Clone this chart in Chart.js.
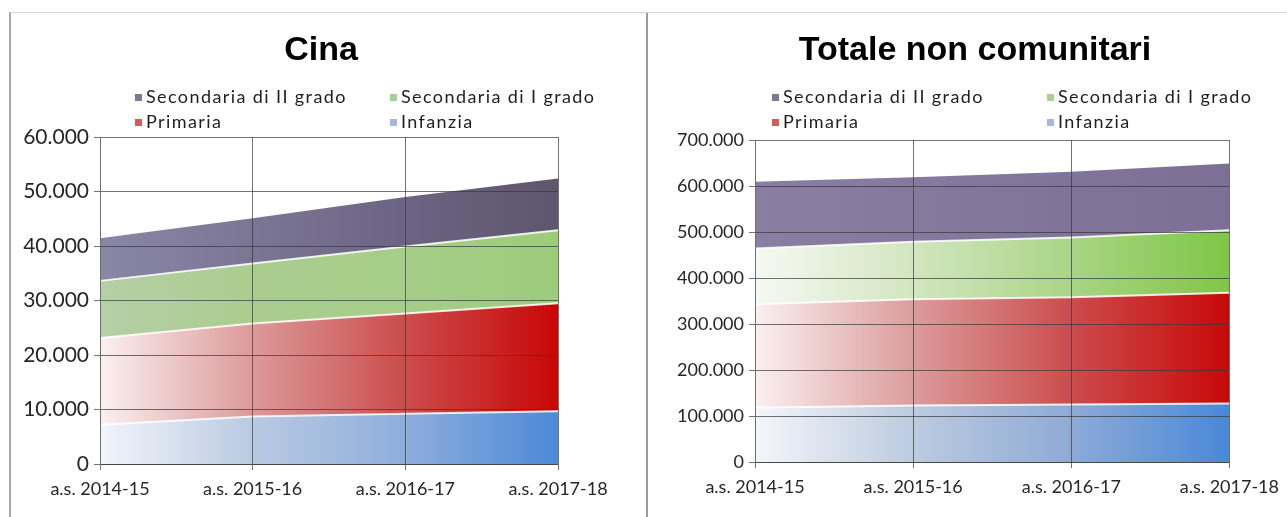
<!DOCTYPE html>
<html>
<head>
<meta charset="utf-8">
<script src="https://cdn.jsdelivr.net/npm/chart.js@4/dist/chart.umd.min.js"></script>
<style>
  body { margin: 0; background: #fff; width: 1287px; height: 517px; overflow: hidden; position: relative; }
  .box { position: absolute; top: 12px; height: 520px; border-top: 1px solid #d6d6d6; }
  #box1 { left: 9px; width: 635px; border-left: 2px solid #a9a9a9; border-right: 2px solid #9c9c9c; }
  #box2 { left: 647px; width: 640px; }
  .wrap { position: absolute; top: 14px; height: 503px; }
  #w1 { left: 11px; width: 634px; }
  #w2 { left: 647px; width: 640px; }
</style>
</head>
<body>
<div class="box" id="box1"></div>
<div class="box" id="box2"></div>
<div class="wrap" id="w1"><canvas id="cina"></canvas></div>
<div class="wrap" id="w2"><canvas id="totale"></canvas></div>
<script>
// dati
var anni = ['a.s. 2014-15', 'a.s. 2015-16', 'a.s. 2016-17', 'a.s. 2017-18'];
var livelli = ['Infanzia', 'Primaria', 'Secondaria di I grado', 'Secondaria di II grado'];

var cinaInfanzia = [7200, 8700, 9200, 9700];
var cinaPrimaria = [15900, 17100, 18400, 19800];
var cinaSecI = [10500, 11000, 12300, 13400];
var cinaSecII = [7800, 8300, 9100, 9500];

var totInfanzia = [118000, 123000, 125000, 127000];
var totPrimaria = [225000, 231000, 233000, 241000];
var totSecI = [121000, 125000, 130000, 136000];
var totSecII = [145000, 140000, 143000, 145000];

// colori
var coloriCina = [
  ['#f2f5fa', '#b9cae2', '#8eaedb', '#4c89d8'],
  ['#fbf0f0', '#dc9a9a', '#cc4c4c', '#c80606'],
  ['#b6cfa6', '#aacd8f', '#a6cd89', '#9ccc7a'],
  ['#8a86a6', '#7c7695', '#6b6482', '#5e566e']
];
var coloriTot = [
  ['#f4f6fa', '#bccbe0', '#8eaad6', '#4a88d8'],
  ['#fbf0f0', '#dc9c9c', '#cc4c4c', '#c80808'],
  ['#f6f9f2', '#d2e6c0', '#a9d485', '#7fc646'],
  ['#8a7ea2', '#85799e', '#81749a', '#7d6f96']
];
var coloriLegenda = ['#a6b8da', '#d25c5c', '#a8d08e', '#7e7898'];

function gradiente(stops) {
  return function(context) {
    var ca = context.chart.chartArea;
    if (!ca) return stops[stops.length - 1];
    var g = context.chart.ctx.createLinearGradient(ca.left, 0, ca.right, 0);
    for (var i = 0; i < stops.length; i++) {
      g.addColorStop(i / (stops.length - 1), stops[i]);
    }
    return g;
  };
}

function formatta(v) {
  return String(v).replace(/\B(?=(\d{3})+(?!\d))/g, '.');
}

// titolo e legenda disegnati a mano (2 colonne come in Excel)
var intestazione = {
  id: 'intestazione',
  afterDraw: function(chart, args, opts) {
    var ctx = chart.ctx;
    ctx.save();
    ctx.fillStyle = '#000';
    ctx.font = 'bold 34px "Liberation Sans", Arial, sans-serif';
    ctx.textAlign = 'center';
    ctx.textBaseline = 'alphabetic';
    ctx.fillText(opts.titolo, opts.titoloX, opts.titoloY);

    ctx.font = '18px Lato, sans-serif';
    ctx.letterSpacing = '1.4px';
    ctx.textAlign = 'left';
    ctx.textBaseline = 'middle';
    var ordine = [3, 2, 1, 0];
    for (var k = 0; k < ordine.length; k++) {
      var ds = chart.data.datasets[ordine[k]];
      var x = opts.colonne[k % 2];
      var y = opts.righe[Math.floor(k / 2)];
      ctx.fillStyle = coloriLegenda[ordine[k]];
      ctx.fillRect(x, y - 3, 7, 7);
      ctx.fillStyle = '#1e1e1e';
      ctx.fillText(ds.label, x + 11, y);
    }
    ctx.restore();
  }
};

function creaGrafico(id, serie, colori, maxY, passo, h) {
  var datasets = serie.map(function(valori, i) {
    return {
      label: livelli[i],
      data: valori,
      fill: i === 0 ? 'origin' : '-1',
      backgroundColor: gradiente(colori[i]),
      borderColor: i === 3 ? 'rgba(0,0,0,0)' : 'rgba(255,255,255,0.85)',
      borderWidth: i === 3 ? 0 : 2,
      pointRadius: 0,
      tension: 0
    };
  });

  return new Chart(document.getElementById(id), {
    type: 'line',
    data: { labels: anni, datasets: datasets },
    plugins: [intestazione],
    options: {
      responsive: true,
      maintainAspectRatio: false,
      animation: false,
      events: [],
      layout: { padding: { left: 0, right: h.destra, top: h.sopra, bottom: 0 } },
      plugins: {
        legend: { display: false },
        tooltip: { enabled: false },
        intestazione: h
      },
      scales: {
        x: {
          z: 1,
          offset: false,
          grid: { z: 1, color: 'rgba(55,55,55,0.7)', lineWidth: 1, tickLength: 6, drawTicks: true },
          border: { z: 1, color: '#6e6e6e', width: 1 },
          ticks: { color: '#262626', padding: 8, maxRotation: 0, font: { family: 'Lato', size: 18 } },
          afterFit: function(s) { s.height = h.assex; }
        },
        y: {
          z: 1,
          stacked: true,
          min: 0,
          max: maxY,
          grid: { z: 1, color: 'rgba(55,55,55,0.7)', lineWidth: 1, tickLength: 6 },
          border: { z: 1, color: '#6e6e6e', width: 1 },
          ticks: {
            stepSize: passo,
            color: '#262626',
            padding: 5,
            font: { family: 'Lato', size: h.fonty },
            callback: function(v) { return formatta(v); }
          },
          afterFit: function(s) { s.width = h.assey; }
        }
      }
    }
  });
}

creaGrafico('cina', [cinaInfanzia, cinaPrimaria, cinaSecI, cinaSecII], coloriCina, 60000, 10000, {
  titolo: 'Cina', titoloX: 310, titoloY: 46,
  colonne: [124, 379], righe: [83, 108],
  sopra: 123, destra: 87, assey: 89, assex: 53, fonty: 21
});

creaGrafico('totale', [totInfanzia, totPrimaria, totSecI, totSecII], coloriTot, 700000, 100000, {
  titolo: 'Totale non comunitari', titoloX: 328, titoloY: 46,
  colonne: [125, 400], righe: [83, 108],
  sopra: 126, destra: 55, assey: 108, assex: 55, fonty: 18
});
</script>
</body>
</html>
